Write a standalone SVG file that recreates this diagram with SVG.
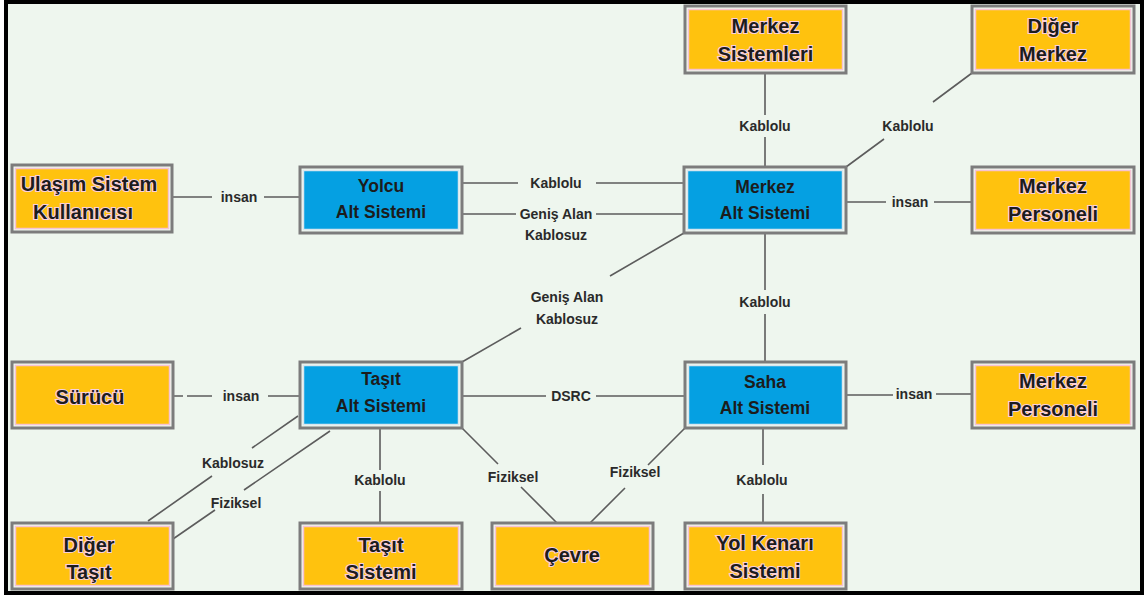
<svg xmlns="http://www.w3.org/2000/svg" width="1148" height="597" viewBox="0 0 1148 597">
  <style>
    .frame { fill: none; stroke: #7c7c7c; stroke-width: 3; }
    .org { fill: #ffc20e; stroke: #f6c3d3; stroke-width: 1.5; }
    .blu { fill: #05a0e2; stroke: #d9e6ee; stroke-width: 1.5; }
    .t { font-family: "Liberation Sans", Arial, sans-serif; font-weight: bold; text-anchor: middle; fill: #1c1c1c; }
    .to { font-size: 20px; stroke: #f8d0dc; stroke-width: 2.2; paint-order: stroke; }
    .tb { font-size: 17.5px; }
    .lbl { font-family: "Liberation Sans", Arial, sans-serif; font-weight: bold; font-size: 14px; text-anchor: middle; fill: #2a2a2a; }
    .c { fill: none; stroke: #5c5c5c; stroke-width: 1.6; }
  </style>

  <!-- page and outer frame -->
  <rect x="0" y="0" width="1148" height="597" fill="#ffffff"/>
  <rect x="6" y="2" width="1136" height="591" fill="#eef6ee" stroke="#000000" stroke-width="4"/>

  <!-- connectors -->
  <g id="connectors">
    <path class="c" d="M172,197 H212 M264,197 H300"/>
    <path class="c" d="M462,183 H518 M596,183 H684"/>
    <path class="c" d="M462,214 H516 M596,214 H684"/>
    <path class="c" d="M765,73 V115 M765,137 V167"/>
    <path class="c" d="M972,73 L933,102 M884,139 L846,167"/>
    <path class="c" d="M846,202 H886 M934,202 H972"/>
    <path class="c" d="M684,233 L610,276 M521,328 L462,362"/>
    <path class="c" d="M765,233 V290 M765,314 V362"/>
    <path class="c" d="M173,396 H183 M187,396 H212 M268,396 H300"/>
    <path class="c" d="M462,396 H546 M596,396 H685"/>
    <path class="c" d="M846,395 H893 M936,394 H972"/>
    <path class="c" d="M298,416 L252,448 M212,476 L148,521"/>
    <path class="c" d="M330,431 L244,490 M215,510 L173,539"/>
    <path class="c" d="M380,428 V470 M380,491 V523"/>
    <path class="c" d="M462,428 L498,464 M521,487 L557,523"/>
    <path class="c" d="M685,428 L648,465 M625,488 L590,523"/>
    <path class="c" d="M763,428 V465 M763,494 V523"/>
  </g>

  <!-- connector labels -->
  <g id="labels">
    <text class="lbl" x="239" y="202">insan</text>
    <text class="lbl" x="556" y="188">Kablolu</text>
    <text class="lbl" x="556" y="219">Geniş Alan</text>
    <text class="lbl" x="556" y="240">Kablosuz</text>
    <text class="lbl" x="765" y="131">Kablolu</text>
    <text class="lbl" x="908" y="131">Kablolu</text>
    <text class="lbl" x="910" y="207">insan</text>
    <text class="lbl" x="567" y="302">Geniş Alan</text>
    <text class="lbl" x="567" y="324">Kablosuz</text>
    <text class="lbl" x="765" y="307">Kablolu</text>
    <text class="lbl" x="241" y="401">insan</text>
    <text class="lbl" x="571" y="401">DSRC</text>
    <text class="lbl" x="914" y="399">insan</text>
    <text class="lbl" x="233" y="468">Kablosuz</text>
    <text class="lbl" x="236" y="508">Fiziksel</text>
    <text class="lbl" x="380" y="485">Kablolu</text>
    <text class="lbl" x="513" y="482">Fiziksel</text>
    <text class="lbl" x="635" y="477">Fiziksel</text>
    <text class="lbl" x="762" y="485">Kablolu</text>
  </g>

  <!-- row 1 -->
  <g id="merkez-sistemleri">
    <rect class="frame" x="685" y="6" width="161" height="67"/>
    <rect class="org" x="688.5" y="9.5" width="154" height="60"/>
    <text class="t to" x="765.5" y="33">Merkez</text>
    <text class="t to" x="765.5" y="61">Sistemleri</text>
  </g>
  <g id="diger-merkez">
    <rect class="frame" x="972" y="6" width="162" height="67"/>
    <rect class="org" x="975.5" y="9.5" width="155" height="60"/>
    <text class="t to" x="1053" y="33">Diğer</text>
    <text class="t to" x="1053" y="61">Merkez</text>
  </g>

  <!-- row 2 -->
  <g id="ulasim-sistem-kullanicisi">
    <rect class="frame" x="12" y="165" width="160" height="67"/>
    <rect class="org" x="15.5" y="168.5" width="153" height="60"/>
    <text class="t to" x="89" y="191">Ulaşım Sistem</text>
    <text class="t to" x="83" y="219">Kullanıcısı</text>
  </g>
  <g id="yolcu-alt-sistemi">
    <rect class="frame" x="300" y="167" width="162" height="66"/>
    <rect class="blu" x="303.5" y="170.5" width="155" height="59"/>
    <text class="t tb" x="381" y="192">Yolcu</text>
    <text class="t tb" x="381" y="218">Alt Sistemi</text>
  </g>
  <g id="merkez-alt-sistemi">
    <rect class="frame" x="684" y="167" width="162" height="66"/>
    <rect class="blu" x="687.5" y="170.5" width="155" height="59"/>
    <text class="t tb" x="765" y="193">Merkez</text>
    <text class="t tb" x="765" y="219">Alt Sistemi</text>
  </g>
  <g id="merkez-personeli-1">
    <rect class="frame" x="972" y="167" width="162" height="66"/>
    <rect class="org" x="975.5" y="170.5" width="155" height="59"/>
    <text class="t to" x="1053" y="193">Merkez</text>
    <text class="t to" x="1053" y="221">Personeli</text>
  </g>

  <!-- row 3 -->
  <g id="surucu">
    <rect class="frame" x="12" y="362" width="161" height="66"/>
    <rect class="org" x="15.5" y="365.5" width="154" height="59"/>
    <text class="t to" x="90" y="404">Sürücü</text>
  </g>
  <g id="tasit-alt-sistemi">
    <rect class="frame" x="300" y="362" width="162" height="66"/>
    <rect class="blu" x="303.5" y="365.5" width="155" height="59"/>
    <text class="t tb" x="381" y="385">Taşıt</text>
    <text class="t tb" x="381" y="412">Alt Sistemi</text>
  </g>
  <g id="saha-alt-sistemi">
    <rect class="frame" x="685" y="362" width="161" height="66"/>
    <rect class="blu" x="688.5" y="365.5" width="154" height="59"/>
    <text class="t tb" x="765" y="388">Saha</text>
    <text class="t tb" x="765" y="414">Alt Sistemi</text>
  </g>
  <g id="merkez-personeli-2">
    <rect class="frame" x="972" y="362" width="162" height="66"/>
    <rect class="org" x="975.5" y="365.5" width="155" height="59"/>
    <text class="t to" x="1053" y="388">Merkez</text>
    <text class="t to" x="1053" y="416">Personeli</text>
  </g>

  <!-- row 4 -->
  <g id="diger-tasit">
    <rect class="frame" x="12" y="523" width="161" height="66"/>
    <rect class="org" x="15.5" y="526.5" width="154" height="59"/>
    <text class="t to" x="89" y="552">Diğer</text>
    <text class="t to" x="89" y="579">Taşıt</text>
  </g>
  <g id="tasit-sistemi">
    <rect class="frame" x="300" y="523" width="162" height="66"/>
    <rect class="org" x="303.5" y="526.5" width="155" height="59"/>
    <text class="t to" x="381" y="552">Taşıt</text>
    <text class="t to" x="381" y="579">Sistemi</text>
  </g>
  <g id="cevre">
    <rect class="frame" x="492" y="523" width="161" height="66"/>
    <rect class="org" x="495.5" y="526.5" width="154" height="59"/>
    <text class="t to" x="572" y="562">Çevre</text>
  </g>
  <g id="yol-kenari-sistemi">
    <rect class="frame" x="685" y="523" width="161" height="66"/>
    <rect class="org" x="688.5" y="526.5" width="154" height="59"/>
    <text class="t to" x="765" y="550">Yol Kenarı</text>
    <text class="t to" x="765" y="578">Sistemi</text>
  </g>
</svg>
